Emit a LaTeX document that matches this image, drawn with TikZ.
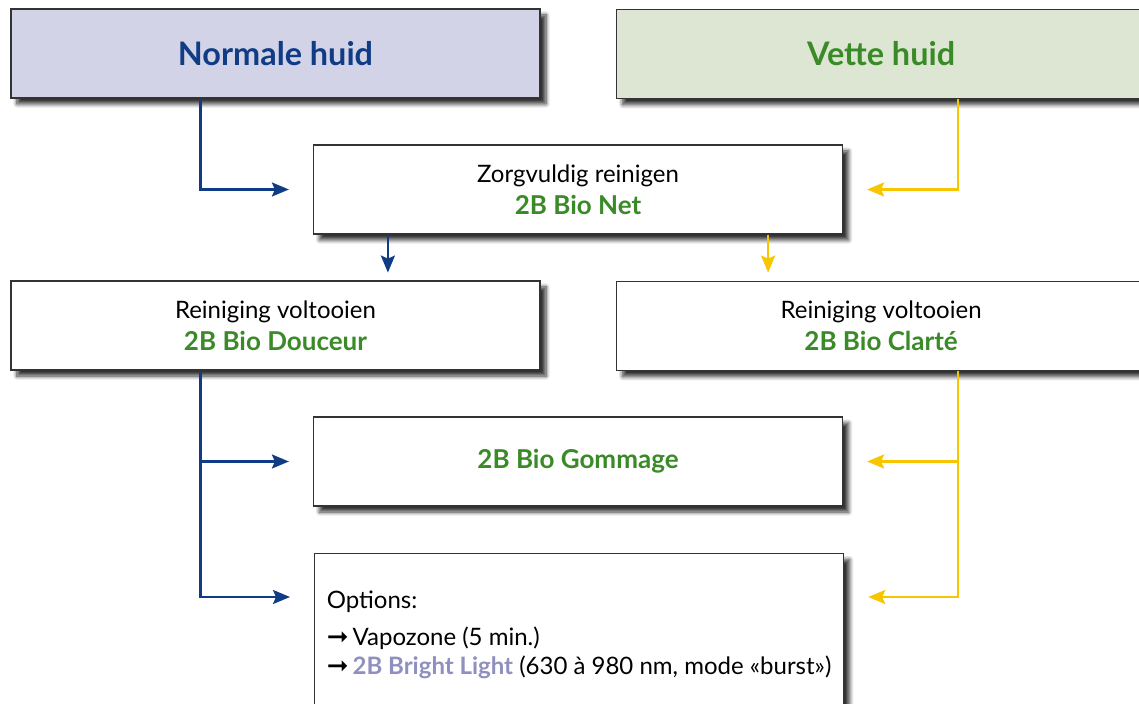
\documentclass[tikz,border=0pt]{standalone}
\usepackage{fontspec}
\setmainfont{Lato}
\newfontfamily\symfont{DejaVu Sans}
\usepackage{xcolor}
\usepackage{tikz}
\usetikzlibrary{arrows.meta,shadows.blur}
\definecolor{normfill}{HTML}{D3D3E7}
\definecolor{vetfill}{HTML}{DCE6D2}
\definecolor{normblue}{HTML}{103C85}
\definecolor{biogreen}{HTML}{3A8A28}
\definecolor{vetyellow}{HTML}{F7C600}
\definecolor{brightlila}{HTML}{8F8FC0}
\tikzstyle{stepbox} = [rectangle,
minimum width=264.5pt,
minimum height=44.5pt,
text centered,
draw=black!80,
line width=0.6pt,
fill=white,
font=\fontsize{12}{16}\selectfont,
blur shadow={shadow xshift=3pt, shadow yshift=-3pt, shadow blur steps=8, shadow opacity=80}]
\tikzstyle{skin} = [stepbox, font=\fontsize{16.2}{19}\selectfont\bfseries]
\tikzstyle{bluearrow} = [normblue, line width=1.2pt, -{Stealth[length=8.5pt,width=7pt,inset=1.5pt]}]
\tikzstyle{yelarrow} = [vetyellow, line width=1.2pt, -{Stealth[length=8.5pt,width=7pt,inset=1.5pt]}]
\newcommand{\bio}[1]{{\fontsize{13}{16}\selectfont\bfseries\color{biogreen}#1}}
\newcommand{\pijl}{{\symfont\fontsize{13}{13}\selectfont ➞}}

\begin{document}
\begin{tikzpicture}[x=0.5pt,y=-0.5pt]
				\useasboundingbox (0,0) rectangle (1139,704);
				\node[skin, fill=normfill, text=normblue] (norm) at (275.5,53.5) {Normale huid};
				\node[skin, fill=vetfill, text=biogreen, anchor=north west] (vet) at (616,9) {Vette huid};
				\node[stepbox, align=center] (zorg) at (578,189.5) {Zorgvuldig reinigen\\\bio{2B Bio Net}};
				\node[stepbox, align=center] (reinL) at (275.5,325.5) {Reiniging voltooien\\\bio{2B Bio Douceur}};
				\node[stepbox, align=center, anchor=north west] (reinR) at (616,281) {Reiniging voltooien\\\bio{2B Bio Clarté}};
				\node[stepbox] (gom) at (578,461.5) {\bio{2B Bio Gommage}};
				\node[stepbox, anchor=north west, minimum height=81pt, align=left,
					font=\fontsize{12}{14.5}\selectfont] (opt) at (314,553)
					{Options:\\[4pt]\pijl\,Vapozone (5 min.)\\\pijl\,{\bfseries\color{brightlila}2B Bright Light} (630 à 980 nm, mode «burst»)};
				\coordinate (optin) at ([yshift=-22pt]opt.north west);
				\coordinate (optinR) at ([yshift=-22pt]opt.north east);

				\draw[bluearrow] ([xshift=95pt]norm.south west) |- ([xshift=-12pt]zorg.west);
				\draw[yelarrow] ([xshift=-94pt]vet.south east) |- ([xshift=12pt]zorg.east);
				\draw[bluearrow] ([xshift=37.5pt]zorg.south west) -- ++(0,-19pt);
				\draw[yelarrow] ([xshift=-37.5pt]zorg.south east) -- ++(0,-19pt);
				\draw[bluearrow] ([xshift=95pt]reinL.south west) |- ([xshift=-12pt]gom.west);
				\draw[bluearrow] ([xshift=95pt]reinL.south west) |- ([xshift=-12pt]optin);
				\draw[yelarrow] ([xshift=-94pt]reinR.south east) |- ([xshift=12pt]gom.east);
				\draw[yelarrow] ([xshift=-94pt]reinR.south east) |- ([xshift=12pt]optinR);
			\end{tikzpicture}
\end{document}
